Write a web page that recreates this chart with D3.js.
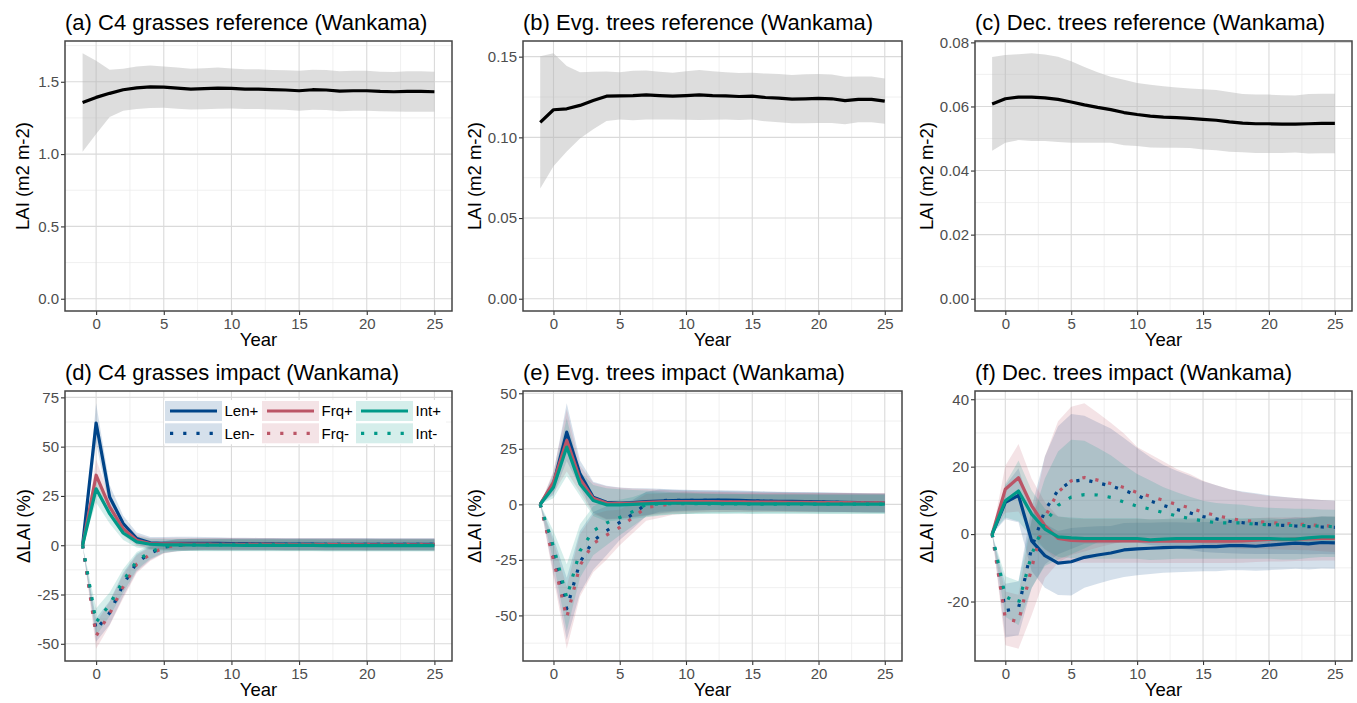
<!DOCTYPE html>
<html>
<head>
<meta charset="utf-8">
<script src="https://cdn.jsdelivr.net/npm/d3@7/dist/d3.min.js"></script>
<style>
  body { margin: 0; background: #fff; }
  text { font-family: "Liberation Sans", Arial, sans-serif; }
</style>
</head>
<body>
<svg id="chart" width="1357" height="703"></svg>
<script>
// years since the event (-1 .. 25)
var years = [-1,0,1,2,3,4,5,6,7,8,9,10,11,12,13,14,15,16,17,18,19,20,21,22,23,24,25];
var xTicks = [0,5,10,15,20,25];
var xTickLabels = ["0","5","10","15","20","25"];
var xMinor = [2.5,7.5,12.5,17.5,22.5];

// reference runs: mean and sd
var refC4Mean = [1.357,1.392,1.420,1.445,1.458,1.465,1.463,1.456,1.449,1.452,1.456,1.454,1.449,1.449,1.445,1.443,1.438,1.445,1.443,1.435,1.438,1.438,1.433,1.431,1.433,1.433,1.431];
var refC4Sd   = [0.340,0.253,0.163,0.145,0.147,0.147,0.142,0.142,0.141,0.142,0.143,0.138,0.138,0.138,0.137,0.137,0.138,0.138,0.139,0.138,0.138,0.138,0.137,0.136,0.140,0.140,0.138];
var refEvgMean = [0.1093,0.1171,0.1177,0.1198,0.1228,0.1255,0.1257,0.1259,0.1263,0.1259,0.1255,0.1259,0.1263,0.1259,0.1257,0.1253,0.1255,0.1247,0.1243,0.1237,0.1239,0.1241,0.1239,0.1228,0.1235,0.1235,0.1224];
var refEvgSd   = [0.0410,0.0350,0.0265,0.0205,0.0178,0.0153,0.0147,0.0153,0.0152,0.0148,0.0145,0.0150,0.0155,0.0150,0.0147,0.0145,0.0145,0.0148,0.0150,0.0150,0.0152,0.0152,0.0150,0.0147,0.0142,0.0142,0.0140];
var refDecMean = [0.0608,0.0624,0.0629,0.0629,0.0627,0.0622,0.0614,0.0605,0.0597,0.0590,0.0581,0.0575,0.0570,0.0567,0.0565,0.0563,0.0560,0.0557,0.0552,0.0548,0.0546,0.0546,0.0545,0.0545,0.0546,0.0547,0.0547];
var refDecSd   = [0.0146,0.0137,0.0134,0.0137,0.0135,0.0133,0.0127,0.0118,0.0110,0.0103,0.0102,0.0098,0.0098,0.0096,0.0094,0.0093,0.0094,0.0094,0.0093,0.0091,0.0091,0.0091,0.0090,0.0089,0.0093,0.0093,0.0093];

// impact runs, C4 grasses (% change)
var c4LenP   = [0,62,24.5,11,3.4,1.2,1.0,1.0,1.0,1.0,0.9,0.8,0.8,0.7,0.7,0.6,0.6,0.6,0.5,0.5,0.5,0.5,0.4,0.4,0.4,0.4,0.4];
var c4LenPSd = [0,10,6,4,3,3,3.2,3.3,3.3,3.2,3.1,3,3,3,3,3,3,3,3,3,3,3,3,3,3,3,3];
var c4LenM   = [0,-43,-34.3,-20,-8.8,-4,-1,0,0.3,0.4,0.5,0.5,0.5,0.5,0.5,0.5,0.5,0.5,0.5,0.5,0.5,0.5,0.5,0.5,0.5,0.5,0.5];
var c4LenMSd = [0,6,6,6,4.5,3.5,3,3,3,3,3,3,3,3,3,3,3,3,3,3,3,3,3,3,3,3,3];
var c4FrqP   = [0,35.5,19.5,8.4,2.5,0.8,0.7,0.7,0.6,0.6,0.5,0.5,0.4,0.4,0.4,0.3,0.3,0.3,0.3,0.3,0.3,0.2,0.2,0.2,0.2,0.2,0.2];
var c4FrqPSd = [0,8,5,3.5,2.8,2.8,3,3.1,3.1,3,3,3,3,3,3,3,3,3,3,3,3,3,3,3,3,3,3];
var c4FrqM   = [0,-46,-34.7,-21,-9.6,-4.5,-1.2,-0.1,0.3,0.4,0.4,0.4,0.4,0.4,0.4,0.4,0.4,0.4,0.4,0.4,0.4,0.4,0.4,0.4,0.4,0.4,0.4];
var c4FrqMSd = [0,6.5,6,6,4.5,3.5,3,3,3,3,3,3,3,3,3,3,3,3,3,3,3,3,3,3,3,3,3];
var c4IntP   = [0,28.6,16,6.2,1.7,0.5,0.2,0.2,0.1,0,0,0,-0.1,-0.1,-0.1,-0.1,-0.1,-0.1,-0.2,-0.2,-0.2,-0.2,-0.2,-0.2,-0.2,-0.2,-0.2];
var c4IntPSd = [0,7,5,3.5,2.8,2.8,3,3,3,3,3,3,3,3,3,3,3,3,3,3,3,3,3,3,3,3,3];
var c4IntM   = [0,-39,-30,-18,-8,-3.4,-0.8,0,0.2,0.2,0.2,0.2,0.2,0.2,0.2,0.1,0.1,0.1,0.1,0.1,0.1,0.1,0.1,0.1,0.1,0.1,0.1];
var c4IntMSd = [0,7,6,6,4.5,3.5,3,3,3,3,3,3,3,3,3,3,3,3,3,3,3,3,3,3,3,3,3];

// impact runs, evergreen trees
var evLenP   = [0,9.2,32.5,13.7,3.2,0.9,0.6,0.8,1.2,1.5,1.7,1.8,1.8,1.9,1.9,1.8,1.6,1.5,1.4,1.3,1.2,1.1,1.0,0.9,0.8,0.7,0.6];
var evLenPSd = [0,5,13,6,7,7.5,7,6.5,6,5.5,5,4.8,4.6,4.5,4.5,4.4,4.4,4.3,4.3,4.3,4.3,4.3,4.3,4.3,4.3,4.3,4.3];
var evLenM   = [0,-23,-47,-26,-16.4,-11.9,-8.1,-4.4,0.2,1.7,1.8,1.8,1.8,1.8,1.7,1.6,1.5,1.4,1.3,1.2,1.1,1.0,0.9,0.8,0.7,0.6,0.6];
var evLenMSd = [0,8,14,14,13,11,8,6.5,5.5,5,4.8,4.6,4.5,4.4,4.3,4.3,4.3,4.3,4.3,4.3,4.3,4.3,4.3,4.3,4.3,4.3,4.3];
var evFrqP   = [0,10,28.8,11.4,2.7,0.6,0.5,0.6,0.9,1.1,1.2,1.2,1.2,1.2,1.1,1.1,1.0,1.0,1.0,0.9,0.9,0.8,0.8,0.8,0.7,0.7,0.7];
var evFrqPSd = [0,5,14,6,7,7.5,7,6.5,6,5.5,5,4.8,4.6,4.5,4.5,4.4,4.4,4.3,4.3,4.3,4.3,4.3,4.3,4.3,4.3,4.3,4.3];
var evFrqM   = [0,-25,-51,-27.5,-17.6,-13.9,-10.4,-5.9,-1.4,-0.6,0.3,0.6,0.8,0.9,0.9,0.9,0.9,0.8,0.8,0.8,0.7,0.7,0.7,0.7,0.6,0.6,0.6];
var evFrqMSd = [0,8,14,14,13,11,8,7,6,5.5,5,4.8,4.6,4.5,4.4,4.3,4.3,4.3,4.3,4.3,4.3,4.3,4.3,4.3,4.3,4.3,4.3];
var evIntP   = [0,7.7,25.8,9.2,1.7,-0.2,-0.2,0,0.2,0.4,0.5,0.5,0.4,0.4,0.3,0.3,0.2,0.2,0.2,0.2,0.2,0.1,0.1,0.1,0.1,0.1,0.1];
var evIntPSd = [0,5,13,5.5,7,7.5,7,6.5,6,5.5,5,4.8,4.6,4.5,4.5,4.4,4.4,4.3,4.3,4.3,4.3,4.3,4.3,4.3,4.3,4.3,4.3];
var evIntM   = [0,-19,-42,-21,-11.9,-8.4,-5.9,-3.2,0,0.2,0.3,0.3,0.3,0.2,0.2,0.2,0.1,0.1,0.1,0.1,0.1,0.1,0.1,0.1,0.1,0.1,0.1];
var evIntMSd = [0,7,15,12,11,10,8,6.5,5.5,5,4.8,4.6,4.5,4.4,4.3,4.3,4.3,4.3,4.3,4.3,4.3,4.3,4.3,4.3,4.3,4.3,4.3];

// impact runs, deciduous trees
var dcLenP   = [0,9.4,11.5,-2,-6.4,-8.6,-8.2,-6.9,-6.2,-5.6,-4.7,-4.4,-4.2,-4.0,-3.9,-3.9,-3.7,-3.7,-3.4,-3.4,-3.6,-3.3,-3.0,-2.7,-2.9,-2.5,-2.6];
var dcLenPSd = [0,5,8,9,9.5,9.5,10,9,8.5,8,8,7.8,7.6,7.5,7.4,7.3,7.3,7.3,7.3,7.3,7.3,7.4,7.5,7.6,7.6,7.7,7.7];
var dcLenM   = [0,-22.7,-22,-4,7,13,15.6,16.1,15.2,14.3,13,11.5,9.8,8.5,7.3,6.3,5.2,4.5,3.8,3.4,3.1,2.8,2.6,2.4,2.2,2.1,2.0];
var dcLenMSd = [0,8,8,12,16,19,20,19,18,17,15.5,14,13,12,11.5,11,10.5,10,9.5,9.2,9,8.7,8.5,8.3,8.2,8,8];
var dcFrqP   = [0,13.3,16.7,8.4,2.5,-1.3,-1.9,-2,-2,-2,-2,-2,-2.1,-2.1,-2.1,-2.1,-2.1,-2.1,-2.1,-2.0,-1.8,-1.6,-1.6,-1.5,-1.4,-1.3,-1.3];
var dcFrqPSd = [0,7,10,8,7,6.5,6.5,6.5,6.5,6.5,6.5,6.5,6.5,6.5,6.5,6.5,6.5,6.5,6.5,6.5,6.5,6.5,6.5,6.5,6.5,6.5,6.5];
var dcFrqM   = [0,-25,-26,-10,5,12.5,15.8,16.8,16,15,13.8,12.3,11.2,10,8.8,7.8,6.5,5.5,4.7,4,3.8,3.4,3.2,3,2.8,2.5,2.3];
var dcFrqMSd = [0,8,8,14,18,21,22,22,20,18,16,13.5,12.5,11.5,10.5,10,9.3,9,8.7,8.4,8.1,7.9,7.8,7.7,7.6,7.6,7.6];
var dcIntP   = [0,9.9,12.8,5.9,1.5,-0.8,-1.1,-1.3,-1.3,-1.3,-1.3,-1.3,-1.7,-1.5,-1.3,-1.3,-1.3,-1.3,-1.3,-1.3,-1.3,-1.3,-1.5,-1.5,-1.1,-0.8,-0.8];
var dcIntPSd = [0,5,9,7,6,6,6,6,6,6,6,6,6,6,6,6,6,6,6,6,6,6,6,6,6,6,6];
var dcIntM   = [0,-18.5,-20.5,-6,3.5,8.5,11,11.7,11.6,10.9,9.5,8.3,7.4,6.4,5.4,4.6,3.9,3.4,3.3,3.3,2.9,2.8,2.7,2.5,2.5,2.3,2.2];
var dcIntMSd = [0,6,6.5,10,13,16,17,16,14,12.5,11,9.5,8.5,7.5,7,6.5,6,5.8,5.6,5.4,5.2,5,5,5,5,5,5];

// y tick values and labels per panel
var yTicksA = [0,0.5,1,1.5],        yLabelsA = ["0.0","0.5","1.0","1.5"];
var yTicksB = [0,0.05,0.10,0.15],   yLabelsB = ["0.00","0.05","0.10","0.15"];
var yTicksC = [0,0.02,0.04,0.06,0.08], yLabelsC = ["0.00","0.02","0.04","0.06","0.08"];
var yTicksD = [-50,-25,0,25,50,75], yLabelsD = ["-50","-25","0","25","50","75"];
var yTicksE = [-50,-25,0,25,50],    yLabelsE = ["-50","-25","0","25","50"];
var yTicksF = [-20,0,20,40],        yLabelsF = ["-20","0","20","40"];

var seriesNames = ["Len+","Len-","Frq+","Frq-","Int+","Int-"];
var colors = {"Len": "#004488", "Frq": "#BB5566", "Int": "#009988"};

function impactSeries(arr) {
  // arr: [mean, sd] pairs in seriesNames order
  return seriesNames.map(function(name, i) {
    return {name: name, mean: arr[i][0], sd: arr[i][1],
            color: colors[name.slice(0,3)], fill: colors[name.slice(0,3)],
            fillOpacity: 0.165, dotted: name.slice(-1) === "-"};
  });
}
function refSeries(mean, sd) {
  return [{name: "ref", mean: mean, sd: sd, color: "#000", fill: "#b3b3b3", fillOpacity: 0.45, dotted: false}];
}

var panels = [
  {title: "(a) C4 grasses reference (Wankama)", box: [65,452,41,311], ylab: "LAI (m2 m-2)", ylabX: 29,
   yTicks: yTicksA, yLabels: yLabelsA, series: refSeries(refC4Mean, refC4Sd)},
  {title: "(b) Evg. trees reference (Wankama)", box: [523,902,41,311], ylab: "LAI (m2 m-2)", ylabX: 481,
   yTicks: yTicksB, yLabels: yLabelsB, series: refSeries(refEvgMean, refEvgSd)},
  {title: "(c) Dec. trees reference (Wankama)", box: [975,1352,41,311], ylab: "LAI (m2 m-2)", ylabX: 933,
   yTicks: yTicksC, yLabels: yLabelsC, series: refSeries(refDecMean, refDecSd)},
  {title: "(d) C4 grasses impact (Wankama)", box: [65,452,391,661], ylab: "\u0394LAI (%)", ylabX: 30,
   yTicks: yTicksD, yLabels: yLabelsD, legend: true,
   series: impactSeries([[c4LenP,c4LenPSd],[c4LenM,c4LenMSd],[c4FrqP,c4FrqPSd],[c4FrqM,c4FrqMSd],[c4IntP,c4IntPSd],[c4IntM,c4IntMSd]])},
  {title: "(e) Evg. trees impact (Wankama)", box: [523,902,391,661], ylab: "\u0394LAI (%)", ylabX: 481,
   yTicks: yTicksE, yLabels: yLabelsE,
   series: impactSeries([[evLenP,evLenPSd],[evLenM,evLenMSd],[evFrqP,evFrqPSd],[evFrqM,evFrqMSd],[evIntP,evIntPSd],[evIntM,evIntMSd]])},
  {title: "(f) Dec. trees impact (Wankama)", box: [975,1352,391,661], ylab: "\u0394LAI (%)", ylabX: 933,
   yTicks: yTicksF, yLabels: yLabelsF,
   series: impactSeries([[dcLenP,dcLenPSd],[dcLenM,dcLenMSd],[dcFrqP,dcFrqPSd],[dcFrqM,dcFrqMSd],[dcIntP,dcIntPSd],[dcIntM,dcIntMSd]])}
];

var svg = d3.select("#chart");
var LW = 3.2;          // line width
var DOTS = "3.2,10";   // dotted pattern

function drawPanel(cfg) {
  var x0 = cfg.box[0], x1 = cfg.box[1], y0 = cfg.box[2], y1 = cfg.box[3];
  var x = d3.scaleLinear().domain([-1 - 1.3, 25 + 1.3]).range([x0, x1]);

  // y limits like ggplot: data (incl. 0) + 5% expansion
  var lo = 0, hi = 0;
  cfg.series.forEach(function(s) {
    s.mean.forEach(function(m, i) {
      lo = Math.min(lo, m - s.sd[i]);
      hi = Math.max(hi, m + s.sd[i]);
    });
  });
  var pad = (hi - lo) * 0.05;
  var y = d3.scaleLinear().domain([lo - pad, hi + pad]).range([y1, y0]);

  var g = svg.append("g");

  // grid
  var step = cfg.yTicks[1] - cfg.yTicks[0];
  var yMinor = [];
  for (var v = cfg.yTicks[0] - step / 2; v <= cfg.yTicks[cfg.yTicks.length - 1] + step; v += step) {
    if (v >= y.domain()[0] && v <= y.domain()[1]) yMinor.push(v);
  }
  g.selectAll(".ymin").data(yMinor).enter().append("line")
    .attr("x1", x0).attr("x2", x1).attr("y1", function(d) { return y(d); }).attr("y2", function(d) { return y(d); })
    .attr("stroke", "#ececec").attr("stroke-width", 0.8);
  g.selectAll(".xmin").data(xMinor).enter().append("line")
    .attr("y1", y0).attr("y2", y1).attr("x1", function(d) { return x(d); }).attr("x2", function(d) { return x(d); })
    .attr("stroke", "#ececec").attr("stroke-width", 0.8);
  g.selectAll(".ymaj").data(cfg.yTicks).enter().append("line")
    .attr("x1", x0).attr("x2", x1).attr("y1", function(d) { return y(d); }).attr("y2", function(d) { return y(d); })
    .attr("stroke", "#dadada").attr("stroke-width", 1.1);
  g.selectAll(".xmaj").data(xTicks).enter().append("line")
    .attr("y1", y0).attr("y2", y1).attr("x1", function(d) { return x(d); }).attr("x2", function(d) { return x(d); })
    .attr("stroke", "#dadada").attr("stroke-width", 1.1);

  // ribbons then lines
  var area = d3.area()
    .x(function(d) { return x(d.yr); })
    .y0(function(d) { return y(d.m - d.s); })
    .y1(function(d) { return y(d.m + d.s); });
  var line = d3.line()
    .x(function(d) { return x(d.yr); })
    .y(function(d) { return y(d.m); });

  var rows = cfg.series.map(function(s) {
    return years.map(function(yr, i) { return {yr: yr, m: s.mean[i], s: s.sd[i]}; });
  });

  cfg.series.forEach(function(s, k) {
    g.append("path").attr("d", area(rows[k]))
      .attr("fill", s.fill).attr("fill-opacity", s.fillOpacity).attr("stroke", "none");
  });
  cfg.series.forEach(function(s, k) {
    g.append("path").attr("d", line(rows[k]))
      .attr("fill", "none").attr("stroke", s.color).attr("stroke-width", LW)
      .attr("stroke-linejoin", "round")
      .attr("stroke-dasharray", s.dotted ? DOTS : null);
  });

  // axes
  var ax = g.append("g").attr("transform", "translate(0," + y1 + ")")
    .call(d3.axisBottom(x).tickValues(xTicks).tickFormat(function(d, i) { return xTickLabels[i]; })
      .tickSize(4).tickPadding(3));
  var ay = g.append("g").attr("transform", "translate(" + x0 + ",0)")
    .call(d3.axisLeft(y).tickValues(cfg.yTicks).tickFormat(function(d, i) { return cfg.yLabels[i]; })
      .tickSize(4).tickPadding(2));
  [ax, ay].forEach(function(a) {
    a.select(".domain").remove();
    a.attr("font-size", 15).attr("font-family", "Liberation Sans, Arial, sans-serif");
    a.selectAll(".tick line").attr("stroke", "#333").attr("stroke-width", 1.1);
    a.selectAll(".tick text").attr("fill", "#4d4d4d");
  });

  // panel border
  g.append("rect").attr("x", x0).attr("y", y0).attr("width", x1 - x0).attr("height", y1 - y0)
    .attr("fill", "none").attr("stroke", "#444").attr("stroke-width", 1.5);

  // titles
  g.append("text").attr("x", x0).attr("y", y0 - 11.5).attr("font-size", 22).attr("fill", "#000")
    .text(cfg.title);
  g.append("text").attr("x", (x0 + x1) / 2).attr("y", y1 + 35).attr("font-size", 18.5)
    .attr("text-anchor", "middle").attr("fill", "#000").text("Year");
  g.append("text").attr("transform", "translate(" + cfg.ylabX + "," + ((y0 + y1) / 2) + ") rotate(-90)")
    .attr("font-size", 18.5).attr("text-anchor", "middle").attr("fill", "#000").text(cfg.ylab);

  if (cfg.legend) drawLegend(g, cfg.series);
}

function drawLegend(g, series) {
  var lx = 165, ly = 401, keyW = 57, keyH = 20, rowGap = 2.3;
  var colX = [165, 262, 356];
  g.append("rect").attr("x", lx - 1).attr("y", ly - 1).attr("width", 282).attr("height", 2 * keyH + rowGap + 2)
    .attr("fill", "#fff");
  series.forEach(function(s, i) {
    var col = Math.floor(i / 2), row = i % 2;
    var kx = colX[col], ky = ly + row * (keyH + rowGap);
    g.append("rect").attr("x", kx).attr("y", ky).attr("width", keyW).attr("height", keyH)
      .attr("fill", s.fill).attr("fill-opacity", s.fillOpacity);
    g.append("line").attr("x1", kx + 5).attr("x2", kx + keyW - 5)
      .attr("y1", ky + keyH / 2).attr("y2", ky + keyH / 2)
      .attr("stroke", s.color).attr("stroke-width", LW)
      .attr("stroke-dasharray", s.dotted ? DOTS : null);
    g.append("text").attr("x", kx + keyW + 2.5).attr("y", ky + keyH / 2 + 5.3)
      .attr("font-size", 15).attr("fill", "#000").text(s.name);
  });
}

panels.forEach(drawPanel);
</script>
</body>
</html>
